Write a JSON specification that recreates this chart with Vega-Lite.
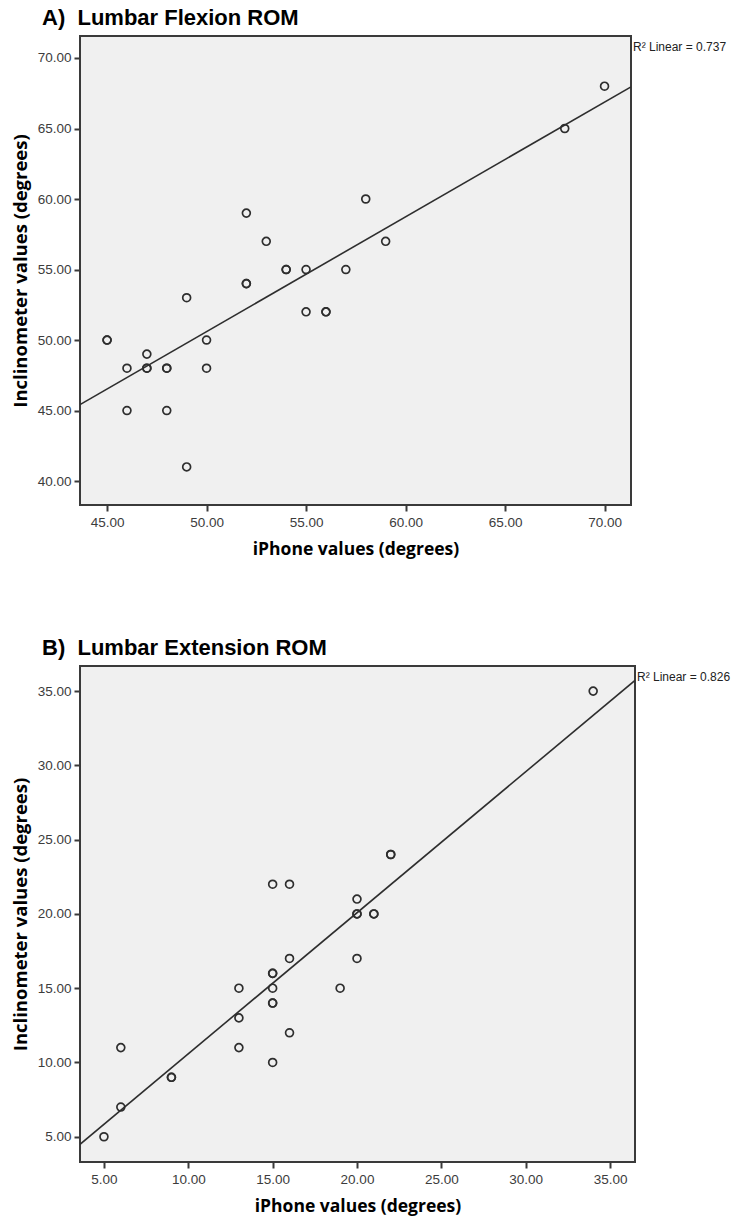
{
  "$schema": "https://vega.github.io/schema/vega-lite/v6.json",
  "padding": {"left": 10, "top": 6, "right": 0, "bottom": 0},
  "spacing": 77,
  "config": {
    "view": {"fill": "#f0f0f0", "stroke": "#3a3a3a", "strokeWidth": 2},
    "title": {"anchor": "start", "frame": "group", "font": "Liberation Sans", "fontSize": 22, "fontWeight": "bold", "color": "#000000", "dx": -38, "offset": 6},
    "axis": {
      "grid": false, "domain": false, "ticks": true, "tickSize": 6, "tickWidth": 2, "tickColor": "#3a3a3a",
      "labelFont": "Liberation Sans", "labelFontSize": 13.5, "labelColor": "#3c3c3c",
      "titleFont": "Open Sans", "titleFontWeight": "bold", "titleColor": "#000000"
    },
    "axisX": {"labelPadding": 4, "titlePadding": 12, "titleFontSize": 17.5},
    "axisY": {"labelPadding": 3, "titlePadding": 7, "titleFontSize": 18.5}
  },
  "vconcat": [
    {
      "title": {"text": "A)\u00a0 Lumbar Flexion ROM"},
      "width": 551,
      "height": 469,
      "data": {"values": [
        {"iphone": 45, "inclinometer": 50}, {"iphone": 45, "inclinometer": 50},
        {"iphone": 46, "inclinometer": 48}, {"iphone": 46, "inclinometer": 45},
        {"iphone": 47, "inclinometer": 49}, {"iphone": 47, "inclinometer": 48}, {"iphone": 47, "inclinometer": 48},
        {"iphone": 48, "inclinometer": 48}, {"iphone": 48, "inclinometer": 48}, {"iphone": 48, "inclinometer": 45},
        {"iphone": 49, "inclinometer": 53}, {"iphone": 49, "inclinometer": 41},
        {"iphone": 50, "inclinometer": 50}, {"iphone": 50, "inclinometer": 48},
        {"iphone": 52, "inclinometer": 59}, {"iphone": 52, "inclinometer": 54}, {"iphone": 52, "inclinometer": 54},
        {"iphone": 53, "inclinometer": 57},
        {"iphone": 54, "inclinometer": 55}, {"iphone": 54, "inclinometer": 55},
        {"iphone": 55, "inclinometer": 55}, {"iphone": 55, "inclinometer": 52},
        {"iphone": 56, "inclinometer": 52}, {"iphone": 56, "inclinometer": 52},
        {"iphone": 57, "inclinometer": 55},
        {"iphone": 58, "inclinometer": 60},
        {"iphone": 59, "inclinometer": 57},
        {"iphone": 68, "inclinometer": 65},
        {"iphone": 70, "inclinometer": 68}
      ]},
      "layer": [
        {
          "mark": {"type": "point", "shape": "circle", "filled": false, "size": 62, "strokeWidth": 1.7, "color": "#2e2e2e", "opacity": 1},
          "encoding": {
            "x": {"field": "iphone", "type": "quantitative",
              "scale": {"domain": [43.64, 71.33], "nice": false, "zero": false},
              "axis": {"title": "iPhone values (degrees)", "values": [45, 50, 55, 60, 65, 70], "format": ".2f"}},
            "y": {"field": "inclinometer", "type": "quantitative",
              "scale": {"domain": [38.3, 71.56], "nice": false, "zero": false},
              "axis": {"title": "Inclinometer values (degrees)", "values": [40, 45, 50, 55, 60, 65, 70], "format": ".2f"}}
          }
        },
        {
          "transform": [{"regression": "inclinometer", "on": "iphone", "extent": [43.64, 71.33]}],
          "mark": {"type": "line", "color": "#2e2e2e", "strokeWidth": 1.6, "clip": true},
          "encoding": {
            "x": {"field": "iphone", "type": "quantitative"},
            "y": {"field": "inclinometer", "type": "quantitative"}
          }
        },
        {
          "data": {"values": [{"label": "R² Linear = 0.737"}]},
          "mark": {"type": "text", "align": "left", "baseline": "middle", "dx": 2, "dy": 11, "font": "Liberation Sans", "fontSize": 12, "color": "#222222"},
          "encoding": {
            "x": {"datum": 71.33, "type": "quantitative"},
            "y": {"datum": 71.56, "type": "quantitative"},
            "text": {"field": "label"}
          }
        }
      ]
    },
    {
      "title": {"text": "B)\u00a0 Lumbar Extension ROM"},
      "width": 555,
      "height": 496,
      "data": {"values": [
        {"iphone": 5, "inclinometer": 5},
        {"iphone": 6, "inclinometer": 7}, {"iphone": 6, "inclinometer": 11},
        {"iphone": 9, "inclinometer": 9}, {"iphone": 9, "inclinometer": 9},
        {"iphone": 13, "inclinometer": 15}, {"iphone": 13, "inclinometer": 13}, {"iphone": 13, "inclinometer": 11},
        {"iphone": 15, "inclinometer": 22}, {"iphone": 16, "inclinometer": 22},
        {"iphone": 15, "inclinometer": 16}, {"iphone": 15, "inclinometer": 16},
        {"iphone": 15, "inclinometer": 15},
        {"iphone": 15, "inclinometer": 14}, {"iphone": 15, "inclinometer": 14},
        {"iphone": 15, "inclinometer": 10},
        {"iphone": 16, "inclinometer": 17}, {"iphone": 16, "inclinometer": 12},
        {"iphone": 19, "inclinometer": 15},
        {"iphone": 20, "inclinometer": 21},
        {"iphone": 20, "inclinometer": 20}, {"iphone": 20, "inclinometer": 20},
        {"iphone": 20, "inclinometer": 17},
        {"iphone": 21, "inclinometer": 20}, {"iphone": 21, "inclinometer": 20},
        {"iphone": 22, "inclinometer": 24}, {"iphone": 22, "inclinometer": 24},
        {"iphone": 34, "inclinometer": 35}
      ]},
      "layer": [
        {
          "mark": {"type": "point", "shape": "circle", "filled": false, "size": 62, "strokeWidth": 1.7, "color": "#2e2e2e", "opacity": 1},
          "encoding": {
            "x": {"field": "iphone", "type": "quantitative",
              "scale": {"domain": [3.58, 36.48], "nice": false, "zero": false},
              "axis": {"title": "iPhone values (degrees)", "values": [5, 10, 15, 20, 25, 30, 35], "format": ".2f"}},
            "y": {"field": "inclinometer", "type": "quantitative",
              "scale": {"domain": [3.3, 36.69], "nice": false, "zero": false},
              "axis": {"title": "Inclinometer values (degrees)", "values": [5, 10, 15, 20, 25, 30, 35], "format": ".2f"}}
          }
        },
        {
          "transform": [{"regression": "inclinometer", "on": "iphone", "extent": [3.58, 36.48]}],
          "mark": {"type": "line", "color": "#2e2e2e", "strokeWidth": 1.6, "clip": true},
          "encoding": {
            "x": {"field": "iphone", "type": "quantitative"},
            "y": {"field": "inclinometer", "type": "quantitative"}
          }
        },
        {
          "data": {"values": [{"label": "R² Linear = 0.826"}]},
          "mark": {"type": "text", "align": "left", "baseline": "middle", "dx": 2, "dy": 11, "font": "Liberation Sans", "fontSize": 12, "color": "#222222"},
          "encoding": {
            "x": {"datum": 36.48, "type": "quantitative"},
            "y": {"datum": 36.69, "type": "quantitative"},
            "text": {"field": "label"}
          }
        }
      ]
    }
  ]
}
